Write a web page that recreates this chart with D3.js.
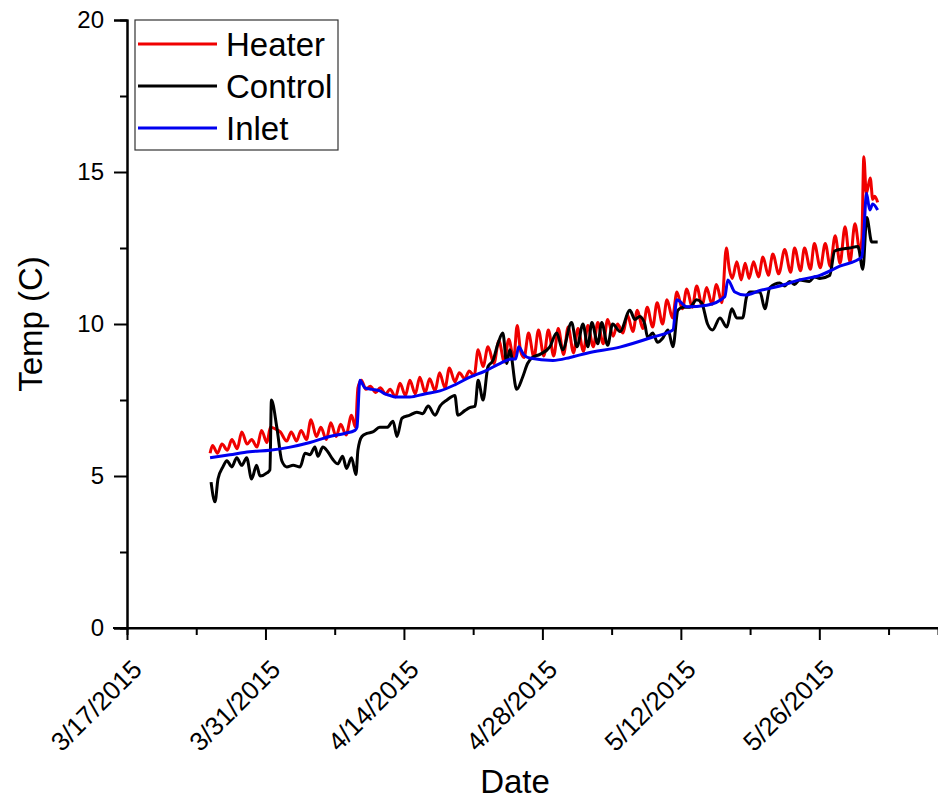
<!DOCTYPE html>
<html>
<head>
<meta charset="utf-8">
<script src="https://cdn.jsdelivr.net/npm/d3@7"></script>
<style>
  body { margin: 0; background: #fff; }
  svg { display: block; font-family: "Liberation Sans", Arial, sans-serif; }
</style>
</head>
<body>
<div id="chart"></div>
<script>
// axis extent and tick labels
const startDate = '3/17/2015';
const endDate = '6/7/2015';
const dateTicks = ['3/17/2015', '3/31/2015', '4/14/2015', '4/28/2015', '5/12/2015', '5/26/2015'];
const minorDateTicks = ['3/24/2015', '4/7/2015', '4/21/2015', '5/5/2015', '5/19/2015', '6/2/2015'];
const tempTicks = [0, 5, 10, 15, 20];
const minorTempTicks = [2.5, 7.5, 12.5, 17.5];

const seriesNames = ['Heater', 'Control', 'Inlet'];
const seriesColors = ['#f00000', '#000000', '#0000f0'];

// [days since 3/17/2015, temp C]
const heater = [
  [8.4,5.75],[8.65,6.0],[9.15,5.75],[9.6,6.05],[10.15,5.85],[10.6,6.2],[11.15,5.9],[11.6,6.45],[12.15,6.05],[12.6,6.2],
  [13.15,5.95],[13.6,6.5],[14.15,6.1],[14.5,6.6],[15.0,6.55],[15.5,6.45],[16.15,6.15],[16.6,6.45],[17.15,6.15],[17.6,6.5],
  [18.15,6.2],[18.6,6.85],[19.15,6.3],[19.6,6.6],[20.15,6.2],[20.6,6.75],[21.15,6.3],[21.6,6.7],[22.15,6.35],[22.7,7.0],
  [23.1,6.6],[23.35,7.9],[23.7,8.15],[24.15,7.85],[24.6,7.95],[25.15,7.75],[25.6,7.9],[26.15,7.7],[26.6,7.85],[27.15,7.6],
  [27.6,8.05],[28.15,7.65],[28.6,8.15],[29.15,7.7],[29.6,8.25],[30.15,7.75],[30.6,8.2],[31.15,7.8],[31.6,8.4],[32.15,7.9],
  [32.6,8.55],[33.15,8.1],[33.6,8.4],[34.15,8.2],[34.6,8.45],[35.1,8.3],[35.5,9.15],[36.0,8.6],[36.5,9.25],[37.1,8.7],
  [37.6,9.45],[38.15,8.75],[38.6,9.5],[39.1,8.85],[39.45,9.95],[39.8,9.1],[40.15,8.9],[40.6,9.7],[41.15,8.9],[41.6,9.8],
  [42.15,8.95],[42.6,9.8],[43.15,8.95],[43.6,9.85],[44.15,9.0],[44.6,9.9],[45.15,9.05],[45.6,9.85],[46.15,9.1],[46.6,9.95],
  [47.15,9.25],[47.6,10.05],[48.15,9.35],[48.6,10.15],[49.15,9.6],[49.6,10.0],[50.15,9.7],[50.6,10.3],[51.15,9.75],[51.6,10.45],
  [52.15,9.85],[52.6,10.55],[53.15,9.9],[53.6,10.7],[54.15,10.0],[54.6,10.8],[55.15,10.2],[55.6,11.05],[56.15,10.5],[56.6,11.15],
  [57.15,10.55],[57.6,11.25],[58.15,10.6],[58.6,11.2],[59.15,10.65],[59.6,11.3],[60.15,10.7],[60.6,12.5],[60.9,11.8],[61.2,11.5],
  [61.66,12.05],[62.1,11.45],[62.5,12.0],[62.9,11.5],[63.35,12.05],[63.85,11.55],[64.3,12.2],[64.85,11.6],[65.3,12.3],[65.9,11.65],
  [66.5,12.45],[67.1,11.7],[67.5,12.5],[68.1,11.75],[68.5,12.5],[69.1,11.8],[69.5,12.65],[70.1,11.85],[70.6,12.65],[71.1,11.9],
  [71.6,12.9],[72.1,12.0],[72.6,13.2],[73.1,12.05],[73.6,13.3],[74.1,12.4],[74.3,12.8],[74.5,15.5],[74.75,14.3],[75.15,14.8],
  [75.4,14.1],[75.6,14.2],[75.9,14.0]
];

const control = [
  [8.5,4.8],[8.9,4.15],[9.2,4.9],[9.7,5.3],[10.1,5.5],[10.6,5.3],[11.1,5.6],[11.6,5.35],[12.1,5.6],[12.6,4.9],
  [13.1,5.35],[13.45,5.0],[14.15,5.1],[14.45,5.2],[14.6,7.5],[15.15,6.6],[15.65,5.5],[16.15,5.3],[16.8,5.35],[17.5,5.3],
  [18.0,5.75],[18.5,5.7],[19.0,5.95],[19.3,5.65],[19.8,5.95],[20.3,5.8],[20.8,5.55],[21.3,5.4],[21.8,5.65],[22.2,5.25],
  [22.7,5.6],[23.15,5.05],[23.35,5.85],[23.75,6.3],[24.25,6.4],[24.85,6.45],[25.55,6.6],[26.3,6.6],[26.9,6.8],[27.3,6.3],
  [27.8,6.9],[28.6,7.0],[29.3,7.1],[29.9,7.05],[30.45,7.3],[31.15,7.0],[31.65,7.3],[32.35,7.5],[33.15,7.65],[33.45,7.0],
  [34.15,7.15],[34.65,7.25],[35.2,7.3],[35.5,8.15],[36.0,7.5],[36.5,8.6],[37.0,8.8],[37.5,9.35],[38.0,9.7],[38.4,8.7],
  [38.7,9.15],[39.4,7.85],[40.0,8.25],[40.5,8.7],[41.0,8.9],[41.75,9.0],[42.75,9.25],[43.45,9.7],[44.05,9.15],[44.95,10.05],
  [45.5,9.25],[46.1,10.0],[46.6,9.25],[47.0,10.05],[47.6,9.35],[48.0,10.05],[48.6,9.3],[49.1,10.0],[49.85,9.75],[50.85,10.45],
  [51.35,10.15],[51.85,10.25],[52.35,10.0],[52.65,9.55],[53.15,9.7],[53.65,9.4],[54.2,9.55],[54.7,9.8],[55.2,9.25],[55.7,10.45],
  [56.2,10.55],[56.9,10.55],[57.6,10.8],[58.1,10.7],[58.7,10.0],[59.2,9.8],[59.95,10.2],[60.65,9.9],[61.15,10.5],[61.65,10.2],
  [62.25,10.2],[62.65,10.9],[63.0,11.05],[64.0,11.05],[64.5,10.5],[65.0,11.2],[66.0,11.35],[66.5,11.25],[67.0,11.4],[67.5,11.3],
  [68.0,11.45],[69.0,11.4],[69.5,11.55],[70.05,11.5],[71.05,11.6],[71.55,12.4],[72.05,12.45],[73.05,12.5],[73.9,12.55],[74.4,11.8],
  [74.8,13.5],[75.3,12.7],[75.9,12.7]
];

const inlet = [
  [8.4,5.6],[10.4,5.7],[12.4,5.8],[14.45,5.85],[16.5,5.95],[18.5,6.1],[20.5,6.3],[22.0,6.4],[23.05,6.5],[23.25,6.6],
  [23.55,8.15],[24.06,7.9],[24.77,7.85],[25.57,7.8],[26.08,7.7],[26.6,7.65],[27.1,7.6],[28.6,7.6],[30.1,7.7],[31.64,7.8],
  [33.15,8.0],[34.67,8.25],[36.2,8.45],[37.7,8.7],[38.9,8.85],[39.3,8.85],[39.6,9.25],[40.1,9.0],[40.7,8.88],[43.06,8.8],
  [44.8,8.9],[46.5,9.04],[49.83,9.24],[53.17,9.57],[55.19,9.8],[55.6,10.8],[56.6,10.57],[58.63,10.62],[60.45,10.9],[60.75,11.45],
  [61.46,11.05],[62.47,10.95],[64.0,11.1],[66.0,11.25],[68.0,11.45],[70.05,11.6],[72.07,11.9],[74.3,12.2],[74.5,13.0],[74.77,14.3],
  [75.1,13.75],[75.4,13.95],[75.9,13.75]
];

const W = 938, H = 799;
const margin = { top: 20, right: 0, bottom: 171, left: 127 };
const parseDate = d3.utcParse('%m/%d/%Y');
const fmtDate = d3.utcFormat('%-m/%-d/%Y');
const t0 = parseDate(startDate);
const toDate = day => new Date(t0.getTime() + day * 864e5);

const svg = d3.select('#chart').append('svg').attr('width', W).attr('height', H);

const x = d3.scaleUtc().domain([t0, parseDate(endDate)]).range([margin.left, W - margin.right]);
const y = d3.scaleLinear().domain([0, 20]).range([H - margin.bottom, margin.top]);

const line = d3.line().curve(d3.curveMonotoneX).x(d => x(toDate(d[0]))).y(d => y(d[1]));
[heater, control, inlet].forEach((s, i) => {
    svg.append('path').datum(s)
        .attr('fill', 'none')
        .attr('stroke', seriesColors[i])
        .attr('stroke-width', 3)
        .attr('stroke-linejoin', 'round')
        .attr('d', line);
});

// axes
const yAx = svg.append('g').attr('transform', `translate(${margin.left},0)`)
    .call(d3.axisLeft(y).tickValues(tempTicks).tickSize(13).tickPadding(10));
svg.append('g').attr('transform', `translate(${margin.left},0)`)
    .call(d3.axisLeft(y).tickValues(minorTempTicks).tickSize(7).tickFormat(''));
const xAx = svg.append('g').attr('transform', `translate(0,${y(0)})`)
    .call(d3.axisBottom(x).tickValues(dateTicks.map(parseDate)).tickSize(12).tickFormat(fmtDate));
svg.append('g').attr('transform', `translate(0,${y(0)})`)
    .call(d3.axisBottom(x).tickValues(minorDateTicks.map(parseDate)).tickSize(7).tickFormat(''));

svg.selectAll('.domain').attr('stroke', '#000').attr('stroke-width', 2);
svg.selectAll('.tick line').attr('stroke', '#000').attr('stroke-width', 2);
yAx.selectAll('text').attr('font-size', 24).attr('fill', '#000').attr('font-family', null);
xAx.selectAll('text')
    .attr('font-size', 26).attr('fill', '#000').attr('font-family', null)
    .attr('x', 0).attr('y', 0).attr('dy', 0)
    .attr('text-anchor', 'end')
    .attr('transform', 'translate(16,43) rotate(-45)');
svg.selectAll('.domain').filter(function () { return this.parentNode === xAx.node(); })
    .attr('d', `M${margin.left - 14},0H${W}`);

// axis titles
svg.append('text')
    .attr('transform', `translate(42,${(margin.top + y(0)) / 2}) rotate(-90)`)
    .attr('text-anchor', 'middle').attr('font-size', 33).text('Temp (C)');
svg.append('text')
    .attr('x', 515).attr('y', 793)
    .attr('text-anchor', 'middle').attr('font-size', 33).text('Date');

// legend
const lg = svg.append('g').attr('transform', 'translate(135,20)');
lg.append('rect').attr('width', 203).attr('height', 130)
    .attr('fill', '#fff').attr('stroke', '#333').attr('stroke-width', 1.2);
seriesNames.forEach((name, i) => {
    const ly = 24 + i * 42;
    lg.append('line').attr('x1', 3).attr('x2', 82).attr('y1', ly).attr('y2', ly)
        .attr('stroke', seriesColors[i]).attr('stroke-width', 3);
    lg.append('text').attr('x', 91).attr('y', ly).attr('dy', '0.35em')
        .attr('font-size', 33).text(name);
});
</script>
</body>
</html>
